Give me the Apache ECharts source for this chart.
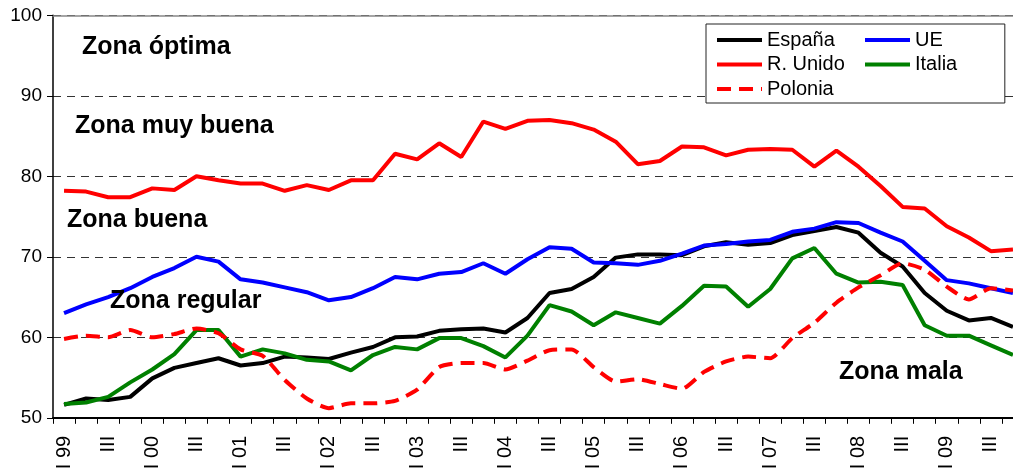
<!DOCTYPE html>
<html>
<head>
<meta charset="utf-8">
<script src="https://cdn.jsdelivr.net/npm/echarts/dist/echarts.min.js"></script>
<style>
  html, body { margin: 0; padding: 0; background: #fff; }
  #chart { width: 1013px; height: 468px; }
</style>
</head>
<body>
<div id="chart"></div>
<script>
// trimestres 1999 - 2009
const years = ['99', '00', '01', '02', '03', '04', '05', '06', '07', '08', '09'];
const quarters = ['I', 'II', 'III', 'IV'];
const categories = years.flatMap(y => quarters.map(q => (q === 'I' ? 'I ' + y : q)));

const espana = [51.6, 52.4, 52.2, 52.6, 54.9, 56.2, 56.8, 57.4, 56.5, 56.8,
  57.6, 57.5, 57.3, 58.1, 58.8, 60.0, 60.1, 60.8, 61.0, 61.1,
  60.6, 62.4, 65.5, 66.0, 67.5, 69.9, 70.3, 70.3, 70.2, 71.3,
  71.8, 71.5, 71.7, 72.7, 73.2, 73.7, 73.0, 70.5, 68.8, 65.5,
  63.3, 62.1, 62.4, 61.3];
const ue = [63.0, 64.1, 65.0, 66.1, 67.5, 68.6, 70.0, 69.4, 67.2, 66.8,
  66.2, 65.6, 64.6, 65.0, 66.1, 67.5, 67.2, 67.9, 68.1, 69.2,
  67.9, 69.7, 71.2, 71.0, 69.3, 69.2, 69.0, 69.5, 70.4, 71.4,
  71.6, 71.9, 72.1, 73.1, 73.5, 74.3, 74.2, 73.0, 71.9, 69.5,
  67.1, 66.7, 66.1, 65.5];
const rUnido = [78.2, 78.1, 77.4, 77.4, 78.5, 78.3, 80.0, 79.5, 79.1, 79.1,
  78.2, 78.9, 78.3, 79.5, 79.5, 82.8, 82.1, 84.1, 82.4, 86.8,
  85.9, 86.9, 87.0, 86.6, 85.8, 84.3, 81.5, 81.9, 83.7, 83.6,
  82.6, 83.3, 83.4, 83.3, 81.2, 83.2, 81.2, 78.8, 76.2, 76.0,
  73.8, 72.4, 70.7, 70.9];
const italia = [51.7, 51.9, 52.6, 54.4, 56.0, 57.9, 60.9, 60.9, 57.6, 58.5,
  58.0, 57.2, 57.0, 55.9, 57.8, 58.8, 58.5, 59.9, 59.9, 58.9,
  57.5, 60.2, 64.0, 63.2, 61.5, 63.1, 62.4, 61.7, 63.9, 66.4,
  66.3, 63.8, 66.0, 69.8, 71.1, 67.9, 66.8, 66.9, 66.5, 61.5,
  60.2, 60.2, 59.0, 57.8];
const polonia = [59.8, 60.2, 60.0, 60.9, 60.0, 60.4, 61.1, 60.5, 58.5, 57.7,
  54.7, 52.4, 51.2, 51.8, 51.8, 52.1, 53.5, 56.3, 56.8, 56.8,
  56.0, 57.1, 58.4, 58.5, 56.3, 54.5, 54.8, 54.2, 53.6, 55.7,
  57.0, 57.6, 57.4, 59.9, 61.8, 64.3, 66.2, 67.7, 69.2, 68.4,
  66.3, 64.7, 66.1, 65.8];

const zones = [
  { text: 'Zona óptima', x: 82, y: 49 },
  { text: 'Zona muy buena', x: 75, y: 128 },
  { text: 'Zona buena', x: 67, y: 222 },
  { text: 'Zona regular', x: 110, y: 303 },
  { text: 'Zona mala', x: 839, y: 374 }
];

const FONT = 'Liberation Sans, Arial, sans-serif';

const chart = echarts.init(document.getElementById('chart'));

const lineSeries = (name, data, color, extra) => Object.assign({
  name: name,
  type: 'line',
  data: data,
  symbol: 'none',
  smooth: false,
  lineStyle: { color: color, width: 4 },
  itemStyle: { color: color },
  emphasis: { disabled: true }
}, extra || {});

const legendBase = {
  orient: 'vertical',
  top: 24,
  itemWidth: 45, itemHeight: 12, itemGap: 4.5,
  itemStyle: { opacity: 0 },
  lineStyle: { width: 4 },
  textStyle: { fontFamily: FONT, fontSize: 20, color: '#000', lineHeight: 20 }
};

const option = {
  backgroundColor: '#fff',
  animation: false,
  textStyle: { fontFamily: FONT },
  grid: {
    left: 53, top: 15.3, width: 971, height: 402.5,
    containLabel: false,
    outerBoundsMode: 'none'
  },
  legend: [
    Object.assign({}, legendBase, {
      left: 706,
      padding: [6, 160, 4, 9],
      backgroundColor: '#fff',
      borderColor: '#222', borderWidth: 1, borderRadius: 0,
      data: ['España', 'R. Unido', 'Polonia'],
      z: 10
    }),
    Object.assign({}, legendBase, {
      left: 863,
      padding: [6, 0, 0, 0],
      data: ['UE', 'Italia'],
      z: 11
    })
  ],
  xAxis: [
    {
      type: 'category',
      data: categories,
      boundaryGap: true,
      axisLine: { lineStyle: { color: '#000', width: 2 } },
      axisTick: { show: true, interval: 0, length: 6, lineStyle: { color: '#000', width: 1 } },
      axisLabel: {
        interval: 1,
        rotate: 90,
        margin: 18,
        color: '#000',
        fontFamily: FONT,
        fontSize: 20
      },
      splitLine: { show: false }
    },
    {
      type: 'category',
      position: 'top',
      data: categories,
      axisLine: { lineStyle: { color: '#888', width: 1.5 } },
      axisTick: { show: false },
      axisLabel: { show: false },
      splitLine: { show: false }
    }
  ],
  yAxis: {
    type: 'value',
    min: 50,
    max: 100,
    interval: 10,
    axisLine: { show: true, lineStyle: { color: '#000', width: 1.5 } },
    axisTick: { show: true, length: 6, lineStyle: { color: '#000', width: 1 } },
    axisLabel: { color: '#000', fontFamily: FONT, fontSize: 19, margin: 11 },
    splitLine: { show: true, lineStyle: { color: '#333', width: 1, type: [8, 6] } }
  },
  graphic: zones.map(z => ({
    type: 'text',
    left: z.x,
    top: z.y - 14,
    z: 5,
    style: {
      text: z.text,
      fill: '#000',
      font: 'bold 25px ' + FONT
    }
  })),
  series: [
    lineSeries('España', espana, '#000000'),
    lineSeries('UE', ue, '#0000ff'),
    lineSeries('R. Unido', rUnido, '#ff0000'),
    lineSeries('Italia', italia, '#008000'),
    lineSeries('Polonia', polonia, '#ff0000', {
      smooth: 0.2,
      lineStyle: { color: '#ff0000', width: 4, type: [14, 8] }
    })
  ]
};

chart.setOption(option);
</script>
</body>
</html>
